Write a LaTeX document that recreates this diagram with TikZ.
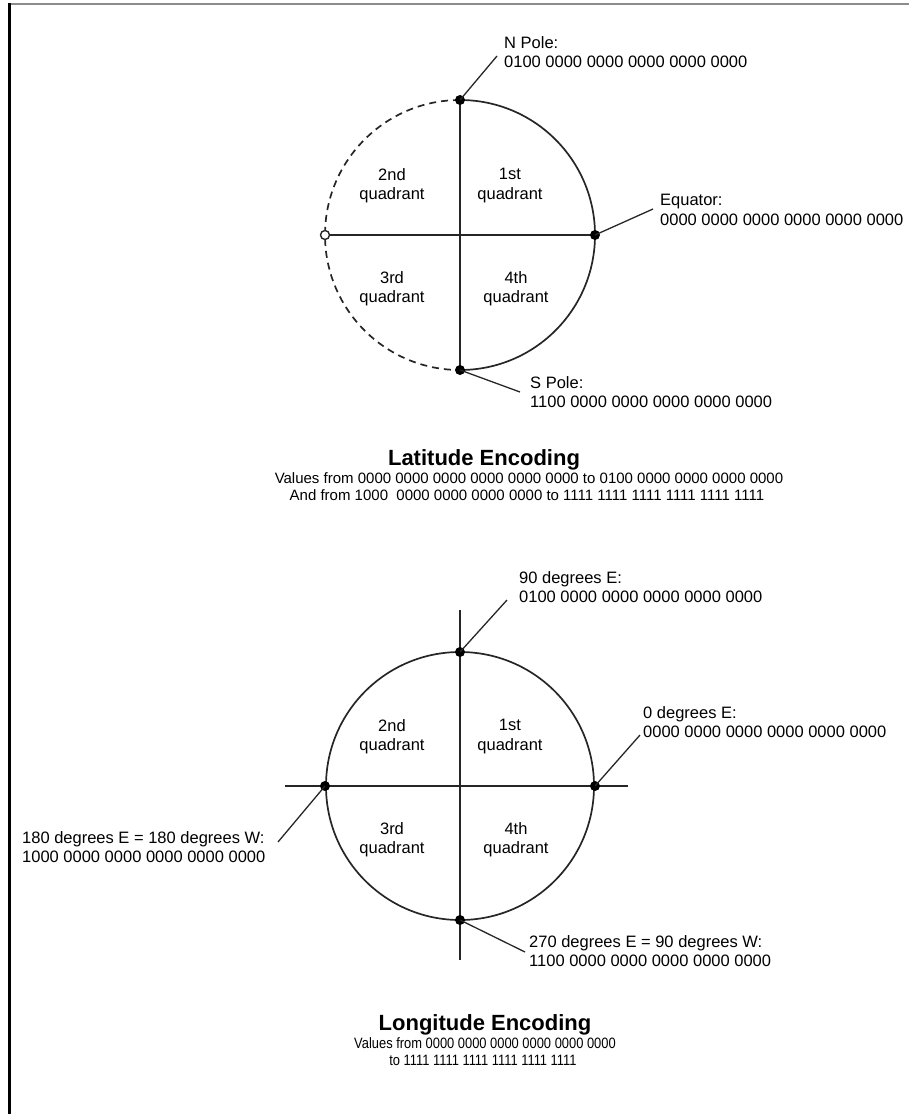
\documentclass[tikz,border=0pt]{standalone}
\usepackage{fontspec}
\setmainfont{Liberation Sans}
\begin{document}
\begin{tikzpicture}[x=1pt,y=1pt, line join=round,
 main/.style={draw=black!85, line width=1.7pt},
 lead/.style={draw=black!85, line width=1.3pt},
 dot/.style={circle, fill=black, inner sep=0pt, minimum size=10pt},
 odot/.style={circle, draw=black!85, fill=white, line width=1.4pt, inner sep=0pt, minimum size=9pt},
 lbl/.style={font=\fontsize{16.5}{19.5}\selectfont, align=left, inner sep=0pt, anchor=north west},
 quad/.style={font=\fontsize{16.5}{19.5}\selectfont, align=center, inner sep=0pt, anchor=north},
 ttl/.style={font=\fontsize{22}{26}\selectfont\bfseries, inner sep=0pt, anchor=base},
 sub/.style={font=\fontsize{15}{17}\selectfont, inner sep=0pt, anchor=base},
 subn/.style={sub, xscale=0.86, transform shape}]
\useasboundingbox (0,0) rectangle (909,-1114);
% frame
\draw[line width=2pt, black!45] (9,-4) -- (909,-4);
\draw[line width=3pt, black] (9.5,-3) -- (9.5,-1114);

% ---------- Latitude ----------
\coordinate (N) at (460,-100);
\coordinate (S) at (460,-370);
\coordinate (E) at (595,-235);
\coordinate (W) at (325,-235);
\draw[main] (N) arc[start angle=90, end angle=-90, radius=135];
\draw[main, dash pattern=on 7pt off 5pt] (N) arc[start angle=90, end angle=270, radius=135];
\draw[main] (W) -- (E);
\draw[main] (N) -- (S);
\node[dot] (Nd) at (N) {};
\node[dot] (Sd) at (S) {};
\node[dot] (Ed) at (E) {};
\node[odot] (Wd) at (W) {};

\node[quad] (q2) at (392,-168) {2nd\\quadrant};
\node[quad] (q1) at (510,-168) {1st\\quadrant};
\node[quad] (q3) at (392,-271) {3rd\\quadrant};
\node[quad] (q4) at (516,-271) {4th\\quadrant};

\node[lbl] (Nl) at (504,-36) {N Pole:\\0100 0000 0000 0000 0000 0000};
\node[lbl] (El) at (660,-194) {Equator:\\0000 0000 0000 0000 0000 0000};
\node[lbl] (Sl) at (530,-376) {S Pole:\\1100 0000 0000 0000 0000 0000};
\coordinate (Ne) at (497,-56);
\coordinate (Ee) at (653,-209);
\coordinate (Se) at (520,-392);
\draw[lead] (Nd.center) -- (Ne);
\draw[lead] (Ed.center) -- (Ee);
\draw[lead] (Sd.center) -- (Se);

\node[ttl] (t1) at (484,-465) {Latitude Encoding};
\node[sub] (t1a) at (529,-483) {Values from 0000 0000 0000 0000 0000 0000 to 0100 0000 0000 0000 0000};
\node[sub] (t1b) at (527,-500) {And from 1000\ \ 0000 0000 0000 0000 to 1111 1111 1111 1111 1111 1111};

% ---------- Longitude ----------
\coordinate (N2) at (460,-652);
\coordinate (S2) at (460,-920);
\coordinate (E2) at (595,-786);
\coordinate (W2) at (325,-786);
\draw[main] (460,-786) circle[radius=134];
\draw[main] (285,-786) -- (628,-786);
\draw[main] (460,-610) -- (460,-960);
\node[dot] (N2d) at (N2) {};
\node[dot] (S2d) at (S2) {};
\node[dot] (E2d) at (E2) {};
\node[dot] (W2d) at (W2) {};

\node[quad] (r2) at (392,-719) {2nd\\quadrant};
\node[quad] (r1) at (510,-719) {1st\\quadrant};
\node[quad] (r3) at (392,-822) {3rd\\quadrant};
\node[quad] (r4) at (516,-822) {4th\\quadrant};

\node[lbl] (N2l) at (519,-571) {90 degrees E:\\0100 0000 0000 0000 0000 0000};
\node[lbl] (E2l) at (643,-706) {0 degrees E:\\0000 0000 0000 0000 0000 0000};
\node[lbl] (W2l) at (22,-831) {180 degrees E = 180 degrees W:\\1000 0000 0000 0000 0000 0000};
\node[lbl] (S2l) at (529,-935) {270 degrees E = 90 degrees W:\\1100 0000 0000 0000 0000 0000};
\coordinate (N2e) at (507,-600);
\coordinate (E2e) at (640,-735);
\coordinate (W2e) at (278,-842);
\coordinate (S2e) at (525,-952);
\draw[lead] (N2d.center) -- (N2e);
\draw[lead] (E2d.center) -- (E2e);
\draw[lead] (W2d.center) -- (W2e);
\draw[lead] (S2d.center) -- (S2e);

\node[ttl] (t2) at (485,-1030) {Longitude Encoding};
\node[subn] (t2a) at (485,-1048) {Values from 0000 0000 0000 0000 0000 0000};
\node[subn] (t2b) at (483,-1065) {to 1111 1111 1111 1111 1111 1111};
\end{tikzpicture}
\end{document}
